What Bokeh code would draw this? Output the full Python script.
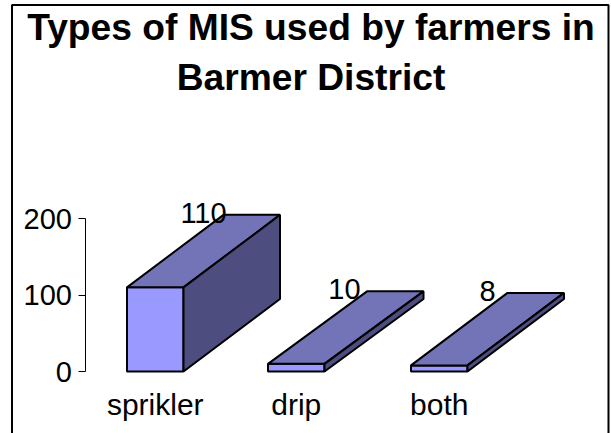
from bokeh.plotting import figure
from bokeh.models import Range1d, LinearAxis, FixedTicker
from bokeh.embed import file_html
from bokeh.resources import INLINE
from bokeh.core.properties import value

categories = ["sprikler", "drip", "both"]
values = [110, 10, 8]
y_ticks = [0, 100, 200]
title_lines = ["Types of MIS used by farmers in", "Barmer District"]

front_color = "#9999ff"
top_color = "#7373b8"
side_color = "#4d4d80"
FONT = "Liberation Sans"

W, H = 611, 433
ZERO_Y, TOP_Y = 371, 218
per_unit = (ZERO_Y - TOP_Y) / 200


def yv(px):
    return (ZERO_Y - px) / per_unit


p = figure(width=W, height=H, output_backend="svg", toolbar_location=None,
           x_range=Range1d(0, W), y_range=Range1d(yv(H), yv(0)),
           min_border=0, x_axis_type=None, y_axis_type=None,
           margin=(0, 0, 0, 0), background_fill_color="white", border_fill_color="white")
p.grid.visible = False
p.outline_line_color = None

bar_x0 = [126.5, 267.5, 410.5]
bar_w = 56.5
bar_dx = [96.5, 99, 96.5]
dx, dy = 96.5, 72.5 / per_unit

yaxis = LinearAxis(ticker=FixedTicker(ticks=y_ticks), bounds=(0, 200), fixed_location=84.5)
yaxis.major_tick_in = 0
yaxis.major_tick_out = 7
yaxis.minor_tick_line_color = None
yaxis.major_tick_line_color = "#000000"
yaxis.axis_line_color = "#000000"
yaxis.major_label_text_font = FONT
yaxis.major_label_text_font_size = "29px"
yaxis.major_label_text_color = "#000000"
yaxis.major_label_standoff = 6
p.add_layout(yaxis, "left")

centers = [x0 + bar_w / 2 for x0 in bar_x0]
xaxis = LinearAxis(ticker=FixedTicker(ticks=centers),
                   major_label_overrides={c: n for c, n in zip(centers, categories)},
                   fixed_location=0)
xaxis.major_tick_line_color = None
xaxis.minor_tick_line_color = None
xaxis.axis_line_color = None
xaxis.major_label_text_font = FONT
xaxis.major_label_text_font_size = "30px"
xaxis.major_label_text_color = "#000000"
xaxis.major_label_standoff = 10
p.add_layout(xaxis, "below")

for x0, v, d in zip(bar_x0, values, bar_dx):
    x1 = x0 + bar_w
    p.patch([x0, x1, x1, x0], [0, 0, v, v], fill_color=front_color, line_color="black", line_width=2)
    p.patch([x0, x1, x1 + d, x0 + d], [v, v, v + dy, v + dy], fill_color=top_color, line_color="black", line_width=2)
    p.patch([x1, x1 + d, x1 + d, x1], [0, dy, v + dy, v], fill_color=side_color, line_color="black", line_width=2)

p.text([c + dx / 2 for c in centers], [v + dy for v in values],
       text=[str(v) for v in values], text_font=value(FONT), text_font_size="29px",
       text_color="black", text_align="center", text_baseline="middle", y_offset=-2)

for line, y in zip(title_lines, [26.5, 76.5]):
    p.text([310.5], [yv(y)], text=[line], text_font=value(FONT),
           text_font_size="37.2px", text_font_style="bold", text_color="black",
           text_align="center", text_baseline="middle")

# chart-area frame (open at the bottom, where the reference is cut off)
p.line([11.5, 11.5, 608, 608], [yv(H + 5), yv(4.5), yv(4.5), yv(H + 5)], line_color="black", line_width=2)

open("out.html", "w").write(file_html(p, INLINE))
